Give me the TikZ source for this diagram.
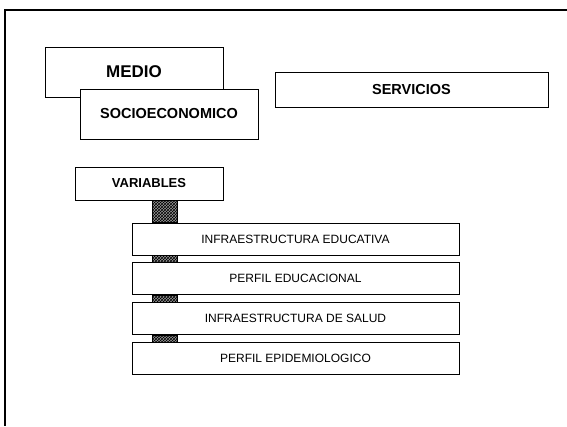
\documentclass[tikz,border=0pt]{standalone}
\usepackage{fontspec}
\setmainfont{Liberation Sans}
\usetikzlibrary{positioning, calc, patterns}

\begin{document}
\begin{tikzpicture}[
        x=1pt, y=-1pt,
        node distance=7pt,
        frame/.style={draw=black, line width=1.6pt},
        box/.style={rectangle, draw=black, line width=0.8pt, fill=white, inner sep=0pt, align=center},
        title/.style={box, font=\bfseries\fontsize{13}{15}\selectfont},
        item/.style={box, minimum width=327pt, minimum height=32pt, font=\fontsize{12}{14}\selectfont},
        hatch/.style={draw=black, line width=0.4pt, preaction={fill=black!40}, pattern=crosshatch}
    ]
        \useasboundingbox (0,0) rectangle (567,426);
        \draw[frame] (567,10) -- (5,10) -- (5,426);

        \node[title, minimum width=178pt, minimum height=50pt, font=\bfseries\fontsize{17}{20}\selectfont] (medio) at (134,72) {MEDIO};
        \node[title, minimum width=178pt, minimum height=50pt, font=\bfseries\fontsize{14.5}{17}\selectfont] (socio) at (169,114) {SOCIOECONOMICO};
        \node[title, minimum width=273pt, minimum height=35pt, font=\bfseries\fontsize{14.5}{17}\selectfont] (serv) at (411.5,89.5) {SERVICIOS};
        \node[title, minimum width=148pt, minimum height=33pt] (vars) at (149,183.5) {VARIABLES};

        \node[item] (infedu) at (295.5,239) {INFRAESTRUCTURA EDUCATIVA};
        \node[item, below=of infedu] (perfedu) {PERFIL EDUCACIONAL};
        \node[item, below=of perfedu] (infsal) {INFRAESTRUCTURA DE SALUD};
        \node[item, below=of infsal] (perfepi) {PERFIL EPIDEMIOLOGICO};

        \coordinate (bar) at (164.5,0);
        \path[hatch] ($(bar |- vars.south)+(-12.5,0)$) rectangle ($(bar |- infedu.north)+(12.5,0)$);
        \foreach \a/\b in {infedu/perfedu, perfedu/infsal, infsal/perfepi}
            \path[hatch] ($(bar |- \a.south)+(-12.5,0)$) rectangle ($(bar |- \b.north)+(12.5,0)$);
    \end{tikzpicture}
\end{document}
